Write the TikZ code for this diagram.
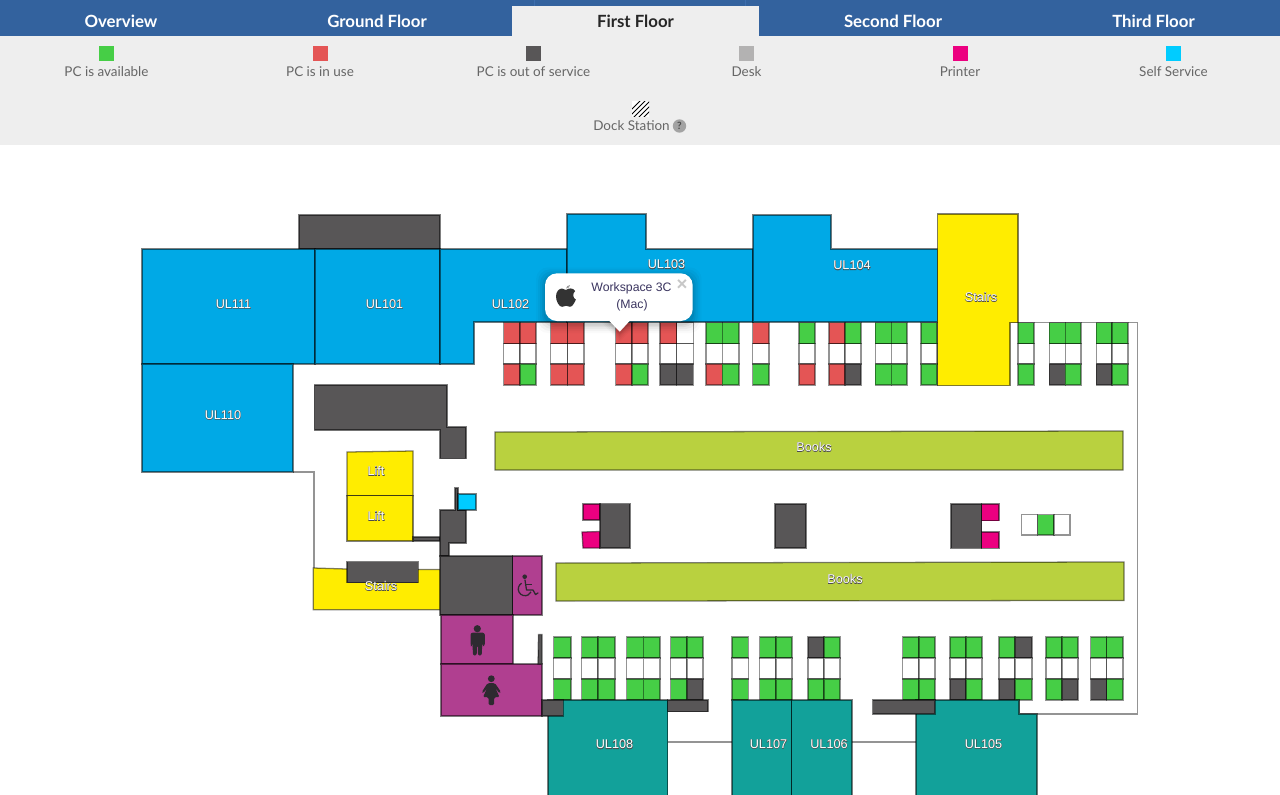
\documentclass[tikz,border=0pt]{standalone}
\usepackage{fontspec}
\setmainfont{Liberation Sans}
\newfontfamily\uifont{Lato}
\usetikzlibrary{calc}
\definecolor{tabblue}{HTML}{33629E}
\definecolor{tabline}{HTML}{3D6EAD}
\definecolor{panel}{HTML}{EEEEEE}
\definecolor{pcgreen}{HTML}{46CE46}
\definecolor{pcred}{HTML}{E45555}
\definecolor{pcdark}{HTML}{585657}
\definecolor{deskgrey}{HTML}{B3B2B2}
\definecolor{printer}{HTML}{EC0080}
\definecolor{selfserv}{HTML}{00CCFF}
\definecolor{roomblue}{HTML}{00A9E6}
\definecolor{roomteal}{HTML}{12A19A}
\definecolor{roomyellow}{HTML}{FFED00}
\definecolor{roompurple}{HTML}{B03F90}
\definecolor{books}{HTML}{B9D13F}
\definecolor{legendtxt}{HTML}{666666}
\definecolor{popuptxt}{HTML}{3B3560}
\definecolor{icondark}{HTML}{2E2A30}
\newcommand{\halo}[1]{\rlap{\special{pdf:code 1 Tr 0.5 w 0.3 G}#1\special{pdf:code 0 Tr 0 G}}#1}
\tikzset{
  every node/.style={inner sep=0pt,outer sep=0pt},
  shp/.style={draw=black,draw opacity=.5,line width=.95pt,line join=miter},
  wall/.style={draw=black,draw opacity=.42,line width=1.05pt,line join=miter},
  cell/.style={draw=black,draw opacity=.42,line width=1.05pt},
  tabtxt/.style={font=\uifont\bfseries\fontsize{12.6}{15}\selectfont,text=white},
  legtxt/.style={font=\uifont\fontsize{10.1}{12}\selectfont,text=legendtxt},
  roomlbl/.style={font=\fontsize{9.5}{11}\selectfont,text=white},
  poptxt/.style={font=\fontsize{9.2}{11}\selectfont,text=popuptxt},
  swatch/.style={minimum width=11.25pt,minimum height=11.25pt},
}
\newcommand{\deskrow}[7]{% x0 x1 x2, colours: top left, top right, bottom left, bottom right
  \filldraw[cell,fill=#4] (#1,\ya) rectangle (#2,\yb);
  \filldraw[cell,fill=#5] (#2,\ya) rectangle (#3,\yb);
  \filldraw[cell,fill=white] (#1,\yb) rectangle (#2,\yc);
  \filldraw[cell,fill=white] (#2,\yb) rectangle (#3,\yc);
  \filldraw[cell,fill=#6] (#1,\yc) rectangle (#2,\yd);
  \filldraw[cell,fill=#7] (#2,\yc) rectangle (#3,\yd);}
\newcommand{\deskone}[4]{% x0 x1, colours: top, bottom
  \filldraw[cell,fill=#3] (#1,\ya) rectangle (#2,\yb);
  \filldraw[cell,fill=white] (#1,\yb) rectangle (#2,\yc);
  \filldraw[cell,fill=#4] (#1,\yc) rectangle (#2,\yd);}
\begin{document}
\begin{tikzpicture}[x=0.75pt,y=-0.75pt]
\useasboundingbox (0,0) rectangle (1280,794);
\fill[white] (0,0) rectangle (1280,794);
% ---------- header
\fill[tabblue] (0,0) rectangle (1280,36);
\fill[panel] (0,36) rectangle (1280,145);
\fill[panel] (512,6) rectangle (759,36);
\draw[tabline,line width=.6pt] (534.5,0) -- (534.5,6) (745.5,0) -- (745.5,6);
\node[tabtxt] (t0) at (121,21.5) {Overview};
\node[tabtxt] (t1) at (377,21.5) {Ground Floor};
\node[tabtxt,text=black!85] (t2) at (635.5,21.5) {First Floor};
\node[tabtxt] (t3) at (893,21.5) {Second Floor};
\node[tabtxt] (t4) at (1153.5,21.5) {Third Floor};
\node[swatch,fill=pcgreen] (s0) at (106.5,53.5) {};
\node[swatch,fill=pcred] (s1) at (320.5,53.5) {};
\node[swatch,fill=pcdark] (s2) at (533.5,53.5) {};
\node[swatch,fill=deskgrey] (s3) at (746.5,53.5) {};
\node[swatch,fill=printer] (s4) at (960.5,53.5) {};
\node[swatch,fill=selfserv] (s5) at (1173.5,53.5) {};
\node[legtxt] (l0) at (106.5,71.5) {PC is available};
\node[legtxt] (l1) at (320,71.5) {PC is in use};
\node[legtxt] (l2) at (533.5,71.5) {PC is out of service};
\node[legtxt] (l3) at (746.5,71.5) {Desk};
\node[legtxt] (l4) at (960,71.5) {Printer};
\node[legtxt] (l5) at (1173.5,71.5) {Self Service};
% dock hatch
\begin{scope}
\clip (632,101) rectangle (649,116.5);
\fill[white] (632,101) rectangle (649,116.5);
\foreach \d in {-9,-4,1,6,11}
  \draw[black,line width=.75pt] (632+\d,118) -- (632+\d+18,100);
\end{scope}
\node[legtxt] (l6) at (631.5,126) {Dock Station};
\node[circle,fill=black!36,minimum size=10pt,font=\uifont\bfseries\fontsize{7.5}{8}\selectfont,text=black!70] (help) at (679.5,126) {?};
% ---------- walls
\coordinate (wa) at (293,472);
\draw[wall] (wa) -- (314,472) -- (314,568);
\draw[wall] (1010,322.7) -- (1137.7,322.7) -- (1137.7,714) -- (1019,714) -- (1019,700);
% ---------- blue rooms
\filldraw[shp,fill=pcdark] (299,215) rectangle (440,249);
\filldraw[shp,fill=roomblue] (142,249) rectangle (315,364);
\filldraw[shp,fill=roomblue] (315,249) rectangle (440,364);
\filldraw[shp,fill=roomblue] (142,364) rectangle (293,472);
\filldraw[shp,fill=roomblue] (440,249) -- (567,249) -- (567,322) -- (474,322) -- (474,364) -- (440,364) -- cycle;
\filldraw[shp,fill=roomblue] (567,214) -- (646,214) -- (646,249) -- (753,249) -- (753,322) -- (567,322) -- cycle;
\filldraw[shp,fill=roomblue] (753,215) -- (831,215) -- (831,249) -- (937.5,249) -- (937.5,322) -- (753,322) -- cycle;
\filldraw[shp,fill=roomyellow] (937.5,214) -- (1018,214) -- (1018,322.7) -- (1010,322.7) -- (1010,385.7) -- (937.5,385.7) -- cycle;
% ---------- upper desks
\def\ya{322.5}\def\yb{343.5}\def\yc{364}\def\yd{385}
\deskrow{503.7}{520}{536}{pcred}{pcred}{pcred}{pcgreen}
\deskrow{550.7}{567.7}{584}{pcred}{pcred}{pcred}{pcred}
\deskrow{615.7}{632}{648}{pcred}{pcred}{pcred}{pcgreen}
\deskrow{660}{676.7}{693.3}{pcred}{white}{pcdark}{pcdark}
\deskrow{706}{722.3}{739}{pcgreen}{pcgreen}{pcred}{pcgreen}
\deskone{752.7}{769}{pcred}{pcgreen}
\deskone{799}{815}{pcgreen}{pcred}
\deskrow{829}{845}{861}{pcred}{pcgreen}{pcred}{pcdark}
\deskrow{875.3}{891.3}{907}{pcgreen}{pcgreen}{pcgreen}{pcgreen}
\deskone{921}{937}{pcgreen}{pcgreen}
\deskone{1018}{1034}{pcgreen}{pcgreen}
\deskrow{1049.3}{1065.3}{1081}{pcgreen}{pcgreen}{pcdark}{pcgreen}
\deskrow{1096.3}{1112}{1128}{pcgreen}{pcgreen}{pcdark}{pcgreen}
% ---------- middle
\filldraw[shp,fill=books] (495,432) -- (1123,431) -- (1123,470) -- (495,470) -- cycle;
\filldraw[shp,fill=books] (556,563) -- (1124,562) -- (1124,600.5) -- (556,601) -- cycle;
\filldraw[shp,fill=pcdark] (314.3,385) -- (447,385) -- (447,427) -- (466,427) -- (466,458.7) -- (440,458.7) -- (440,430) -- (314.3,430) -- cycle;
\filldraw[shp,fill=roomyellow] (347,452) -- (413,451) -- (413,495.7) -- (347,495.7) -- cycle;
\filldraw[shp,fill=roomyellow] (347,495.7) -- (413,495.7) -- (413,541) -- (347,541) -- cycle;
\filldraw[shp,fill=pcdark] (413,537) -- (440,537) -- (440,541) -- (413,541) -- cycle;
\filldraw[shp,fill=pcdark] (440,510) -- (455,510) -- (455,488) -- (458,488) -- (458,510) -- (466,510) -- (466,543) -- (449,543) -- (449,556) -- (440,556) -- cycle;
\filldraw[shp,fill=selfserv] (458,494) rectangle (476,510);
% printers
\filldraw[shp,fill=printer] (583,504) -- (600,504) -- (600,520) -- (583,520) -- cycle;
\filldraw[shp,fill=printer] (582,532) -- (600,531.5) -- (600,548) -- (583,548) -- cycle;
\filldraw[shp,fill=pcdark] (600,503.5) rectangle (630,548);
\filldraw[shp,fill=pcdark] (775,504) rectangle (806,548);
\filldraw[shp,fill=pcdark] (951,504) rectangle (981.7,548.3);
\filldraw[shp,fill=printer] (981.7,504) rectangle (999,520.5);
\filldraw[shp,fill=printer] (981.7,532) rectangle (999,548.3);
\filldraw[cell,fill=white] (1021.7,514.5) rectangle (1037.7,535);
\filldraw[cell,fill=pcgreen] (1037.7,514.5) rectangle (1054,535);
\filldraw[cell,fill=white] (1054,514.5) rectangle (1070,535);
% ---------- lower left
\filldraw[shp,fill=roomyellow] (313.3,568) -- (347,569) -- (418,569.5) -- (440.3,569.5) -- (440.3,609.7) -- (313.3,609.7) -- cycle;
\filldraw[shp,fill=pcdark] (347,561.7) rectangle (418.3,582.7);
\filldraw[shp,fill=pcdark] (440,556) rectangle (512.7,615);
\filldraw[shp,fill=roompurple] (512.7,556) rectangle (542,615);
\filldraw[shp,fill=roompurple] (441,615) rectangle (513,664);
\filldraw[shp,fill=roompurple] (441,664) rectangle (542,716);
\filldraw[shp,fill=pcdark] (538.5,634.5) -- (542,634.5) -- (542,664) -- (538,664) -- cycle;
% ---------- lower desks
\def\ya{637}\def\yb{658}\def\yc{679}\def\yd{700}
\deskone{553.7}{571}{pcgreen}{pcgreen}
\deskrow{581.7}{598}{615}{pcgreen}{pcgreen}{pcgreen}{pcgreen}
\deskrow{626.7}{643.3}{660}{pcgreen}{pcgreen}{pcgreen}{pcgreen}
\deskrow{670.7}{687}{703}{pcgreen}{pcgreen}{pcgreen}{pcdark}
\deskone{732}{748.3}{pcgreen}{pcgreen}
\deskrow{759.7}{776}{792}{pcgreen}{pcgreen}{pcgreen}{pcgreen}
\deskrow{808}{824}{840}{pcdark}{pcgreen}{pcgreen}{pcgreen}
\deskrow{902.7}{919}{935}{pcgreen}{pcgreen}{pcgreen}{pcgreen}
\deskrow{950}{966}{982}{pcgreen}{pcgreen}{pcdark}{pcgreen}
\deskrow{999}{1015}{1032}{pcgreen}{pcdark}{pcdark}{pcgreen}
\deskrow{1046}{1062}{1078}{pcgreen}{pcgreen}{pcgreen}{pcdark}
\deskrow{1090.7}{1106.7}{1123}{pcgreen}{pcgreen}{pcdark}{pcgreen}
% ---------- teal rooms
\coordinate (c108) at (667.7,742);
\coordinate (c107) at (732,742);
\coordinate (c106) at (852,742);
\coordinate (c105) at (916,742);
\draw[wall] (c108) -- (c107);
\draw[wall] (c106) -- (c105);
\filldraw[shp,fill=roomteal] (548,700) -- (667.7,700) -- (667.7,796) -- (548,796) -- cycle;
\filldraw[shp,fill=roomteal] (732,700) -- (791.7,700) -- (791.7,796) -- (732,796) -- cycle;
\filldraw[shp,fill=roomteal] (791.7,700) -- (852,700) -- (852,796) -- (791.7,796) -- cycle;
\filldraw[shp,fill=roomteal] (916,714) -- (916,700) -- (1019,700) -- (1019,714) -- (1037,714) -- (1037,796) -- (916,796) -- cycle;
\filldraw[shp,fill=pcdark] (542,700) -- (563.3,700) -- (563.3,716) -- (542,716) -- cycle;
\filldraw[shp,fill=pcdark] (667.7,700) rectangle (708,711.7);
\filldraw[shp,fill=pcdark] (872.7,700) rectangle (935,714);
% ---------- room labels
\node[roomlbl] (ul111) at (233.5,304) {\halo{UL111}};
\node[roomlbl] (ul101) at (384.5,304) {\halo{UL101}};
\node[roomlbl] (ul102) at (510.5,304) {\halo{UL102}};
\node[roomlbl] (ul103) at (666.5,264.5) {\halo{UL103}};
\node[roomlbl] (ul104) at (852,265.5) {\halo{UL104}};
\node[roomlbl] (ul110) at (223,415) {\halo{UL110}};
\node[roomlbl] (st1) at (981,297) {\halo{Stairs}};
\node[roomlbl] (st2) at (381,586) {\halo{Stairs}};
\node[roomlbl] (lift1) at (376,471) {\halo{Lift}};
\node[roomlbl] (lift2) at (376,516) {\halo{Lift}};
\node[roomlbl] (bk1) at (814,447) {\halo{Books}};
\node[roomlbl] (bk2) at (845,579) {\halo{Books}};
\node[roomlbl] (ul108) at (614.5,744.5) {\halo{UL108}};
\node[roomlbl] (ul107) at (768.5,744) {\halo{UL107}};
\node[roomlbl] (ul106) at (829,744) {\halo{UL106}};
\node[roomlbl] (ul105) at (983.5,744) {\halo{UL105}};
% ---------- wheelchair
\draw[icondark,line width=.95pt,line cap=round,line join=round]
  (525,580) -- (526.5,590) -- (533,590) -- (535.5,594.5) -- (538,593);
\draw[icondark,line width=.85pt] (526,584.5) -- (532,584.5);
\draw[icondark,line width=.95pt] (521.6,583.2) arc[start angle=-120,end angle=-335,radius=6.7];
\fill[icondark] (524.7,576.7) circle (2.3);
% ---------- man
\fill[icondark] (477.3,628.7) circle (3.6);
\fill[icondark,rounded corners=1.6pt] (470.5,632.7) -- (484.8,632.7) -- (484.8,646) -- (482.3,646) -- (482.3,638) -- (481.8,655.5) -- (477.9,655.5) -- (477.7,645) -- (476.9,645) -- (476.7,655.5) -- (472.9,655.5) -- (472.4,638) -- (472.4,646) -- (470.5,646) -- cycle;
% ---------- woman
\fill[icondark] (491.3,678.7) circle (3.4);
\fill[icondark,rounded corners=1pt] (487.5,683.2) -- (495,683.2) -- (501,692) -- (499.3,693.3) -- (495.3,687.5) -- (499.5,697.2) -- (494.2,697.2) -- (494.2,705) -- (488.5,705) -- (488.5,697.2) -- (483,697.2) -- (487.3,687.5) -- (483.3,693.3) -- (481.8,692) -- cycle;
% ---------- popup
\foreach \g/\o in {9/.02,7/.03,5/.04,3/.05,1.5/.06}{
  \fill[black,opacity=\o,rounded corners=9pt] (545-\g,273.3-\g+3) rectangle (692.7+\g,321+\g+3);
  \fill[black,opacity=\o] (609-\g,321) -- (630+\g,321) -- (619.7,333+\g) -- cycle;
}
\fill[white,rounded corners=9pt] (545,273.3) rectangle (692.7,321);
\fill[white] (609,320.5) -- (630,320.5) -- (619.7,331.7) -- cycle;
\fill[black!80] (566,290) .. controls (568.5,288) and (573,287.5) .. (575.2,291) .. controls (572.5,293) and (572.5,298) .. (575.8,299.5) .. controls (575,302) and (572.5,306.8) .. (570,306.8) .. controls (568.5,306.8) and (567.5,305.8) .. (566,305.8) .. controls (564.5,305.8) and (563.5,306.8) .. (562,306.8) .. controls (559,306.8) and (556,301) .. (556,296.5) .. controls (556,291.5) and (559,288.5) .. (562,288.5) .. controls (563.5,288.5) and (564.5,290) .. (566,290) -- cycle;
\fill[black!40] (566,288.5) .. controls (566,287) and (568,285) .. (570,285) .. controls (570,287) and (568,288.5) .. (566,288.5) -- cycle;
\node[poptxt] (pop1) at (631.5,288.5) {Workspace 3C};
\node[poptxt] (pop2) at (632,305.5) {(Mac)};
\node[font=\bfseries\fontsize{14}{14}\selectfont,text=black!22] (popx) at (682,285.5) {×};
\end{tikzpicture}
\end{document}
